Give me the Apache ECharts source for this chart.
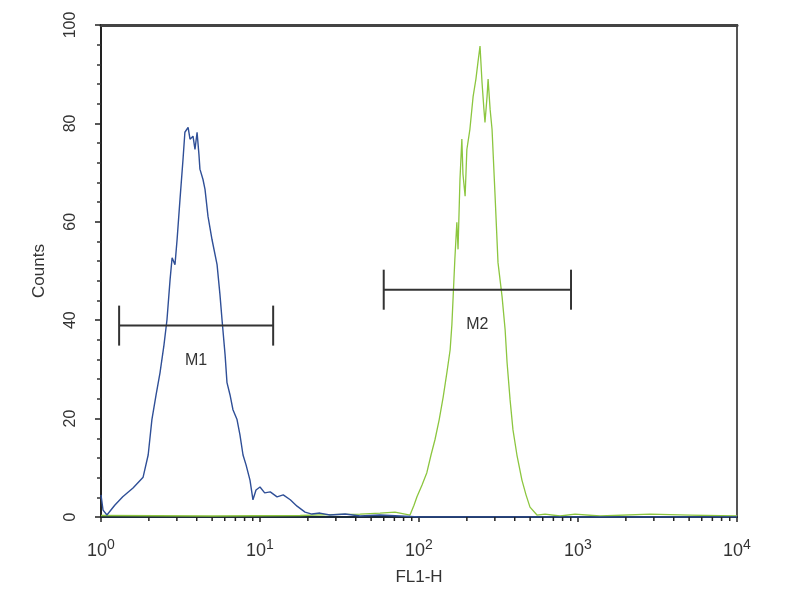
<!DOCTYPE html>
<html><head><meta charset="utf-8">
<script src="https://cdn.jsdelivr.net/npm/echarts@6/dist/echarts.min.js"></script>
<style>html,body{margin:0;padding:0;background:#fff}#c{width:800px;height:600px}</style>
</head><body><div id="c"></div>
<script>
// FL1-H values and counts for the two histograms
const blueX = [1.0,1.03,1.09,1.22,1.37,1.59,1.84,1.98,2.09,2.22,2.35,2.49,2.60,2.72,2.80,2.92,3.01,3.14,3.28,3.37,3.53,3.63,3.79,3.90,4.02,4.13,4.19,4.38,4.51,4.71,4.99,5.37,5.60,5.77,6.03,6.20,6.48,6.76,7.17,7.48,7.82,8.17,8.65,9.03,9.44,10.0,10.7,11.6,12.8,14.0,15.5,17.1,19.2,21.2,23.8,27.5,34.3,42.6,56.9,76.0,101,300,1000,10000];
const blueY = [4.5,1.4,0.4,2.4,4.1,5.9,8.1,12.6,19.8,24.8,29.3,35.0,40.1,48.3,52.7,51.3,56.4,64.6,72.7,78.2,79.2,76.8,77.4,74.7,78.2,73.7,70.7,68.6,66.6,61.1,56.4,51.3,45.2,40.1,33.0,27.3,24.8,21.8,19.8,16.7,12.6,10.6,7.5,3.5,5.5,6.1,4.9,5.1,4.1,4.5,3.5,2.2,1.0,0.6,0.8,0.4,0.6,0.2,0.4,0.2,0,0,0,0];
const greenX = [1.0,5.0,17.9,27.5,42.6,56.9,70.6,81.7,87.8,93.0,97.1,104.5,112,119,126,134,142,150,157,161,164,168,173,176,181,186,189,195,200,209,219,228,235,242,249,256,260,268,272,280,288,301,314,333,348,358,374,390,413,444,471,499,552,620,771,957,1375,2836,5060,10000];
const greenY = [0.3,0.2,0.3,0.5,0.6,0.8,1.0,0.6,0.4,2.4,4.1,6.5,9.0,12.6,15.7,19.8,24.4,29.5,34.0,39.1,44.8,52.3,59.9,54.4,68.6,76.8,69.7,65.2,74.7,78.8,85.5,89.0,92.5,95.7,88.4,82.9,80.2,85.5,89.0,82.9,78.8,65.2,51.7,44.8,38.1,31.4,23.8,17.7,12.6,7.5,4.5,2.0,0.4,0.6,0.2,0.6,0.2,0.6,0.4,0.2];
// marker gates: start, end, level, name
const gateStart = [1.3, 60];
const gateEnd = [12.1, 904];
const gateLevel = [38.9, 46.2];
const gateName = ['M1', 'M2'];
const yTicks = [0, 20, 40, 60, 80, 100];

const minorVals = [];
for (let d = 0; d < 4; d++) for (let k = 2; k <= 9; k++) minorVals.push([k * Math.pow(10, d)]);

const chart = echarts.init(document.getElementById('c'));
const font = 'Liberation Sans, Arial, sans-serif';
chart.setOption({
  animation: false,
  backgroundColor: '#fff',
  grid: {left: 101, right: 63, top: 25, bottom: 83, show: true, borderColor: '#555', borderWidth: 2},
  xAxis: [{
    type: 'log', logBase: 10, min: 1, max: 10000,
    name: 'FL1-H', nameLocation: 'middle', nameGap: 52,
    nameTextStyle: {fontFamily: font, fontSize: 17, color: '#333'},
    axisLine: {lineStyle: {color: '#1b2a3a', width: 2}},
    axisTick: {show: true, length: 5, lineStyle: {color: '#222', width: 1.5}},
    splitLine: {show: false},
    axisLabel: {
      margin: 21, fontFamily: font, color: '#333',
      formatter: v => '{b|10}{s|' + Math.round(Math.log10(v)) + '}',
      rich: {b: {fontSize: 18, fontFamily: font, color: '#333'}, s: {fontSize: 14, fontFamily: font, color: '#333', padding: [0, 0, 12, 0]}}
    }
  }, {
    type: 'log', logBase: 10, min: 1, max: 10000, position: 'top',
    axisLine: {lineStyle: {color: '#444', width: 3}}, axisTick: {show: false}, axisLabel: {show: false}, splitLine: {show: false}
  }],
  yAxis: {
    type: 'value', min: 0, max: 100, interval: 20,
    name: 'Counts', nameLocation: 'middle', nameGap: 53, nameRotate: 90,
    nameTextStyle: {fontFamily: font, fontSize: 17, color: '#333'},
    axisLine: {show: true, lineStyle: {color: '#222', width: 2}},
    axisTick: {show: true, length: 6, lineStyle: {color: '#222', width: 1.5}},
    minorTick: {show: true, splitNumber: 5, length: 4, lineStyle: {color: '#333', width: 1.5}},
    splitLine: {show: false},
    axisLabel: {rotate: 90, margin: 22, fontFamily: font, fontSize: 16, color: '#333', formatter: v => yTicks.includes(v) ? String(v) : ''}
  },
  series: [{
    type: 'line', data: greenX.map((x, i) => [x, greenY[i]]), showSymbol: false,
    lineStyle: {color: '#8cc63f', width: 1.3}, z: 2
  }, {
    type: 'line', data: blueX.map((x, i) => [x, blueY[i]]), showSymbol: false,
    lineStyle: {color: '#2f4f97', width: 1.4}, z: 3
  }, {
    type: 'custom', clip: false, z: 5,
    data: minorVals,
    renderItem: (params, api) => {
      const p = api.coord([api.value(0), 0]);
      return {type: 'line', shape: {x1: p[0], y1: p[1], x2: p[0], y2: p[1] + 4}, style: {stroke: '#222', lineWidth: 1.5}};
    }
  }, {
    type: 'custom', clip: false, z: 6,
    data: gateStart.map((s, i) => [s, gateEnd[i], gateLevel[i], i]),
    renderItem: (params, api) => {
      const a = api.coord([api.value(0), api.value(2)]);
      const b = api.coord([api.value(1), api.value(2)]);
      const mid = (a[0] + b[0]) / 2;
      const st = {stroke: '#333', lineWidth: 2};
      return {type: 'group', children: [
        {type: 'line', shape: {x1: a[0], y1: a[1], x2: b[0], y2: b[1]}, style: st},
        {type: 'line', shape: {x1: a[0], y1: a[1] - 20, x2: a[0], y2: a[1] + 20}, style: st},
        {type: 'line', shape: {x1: b[0], y1: b[1] - 20, x2: b[0], y2: b[1] + 20}, style: st},
        {type: 'text', style: {text: gateName[api.value(3)], x: mid, y: a[1] + 35, align: 'center', verticalAlign: 'middle', font: '16px ' + font, fill: '#333'}}
      ]};
    }
  }]
});
</script></body></html>
